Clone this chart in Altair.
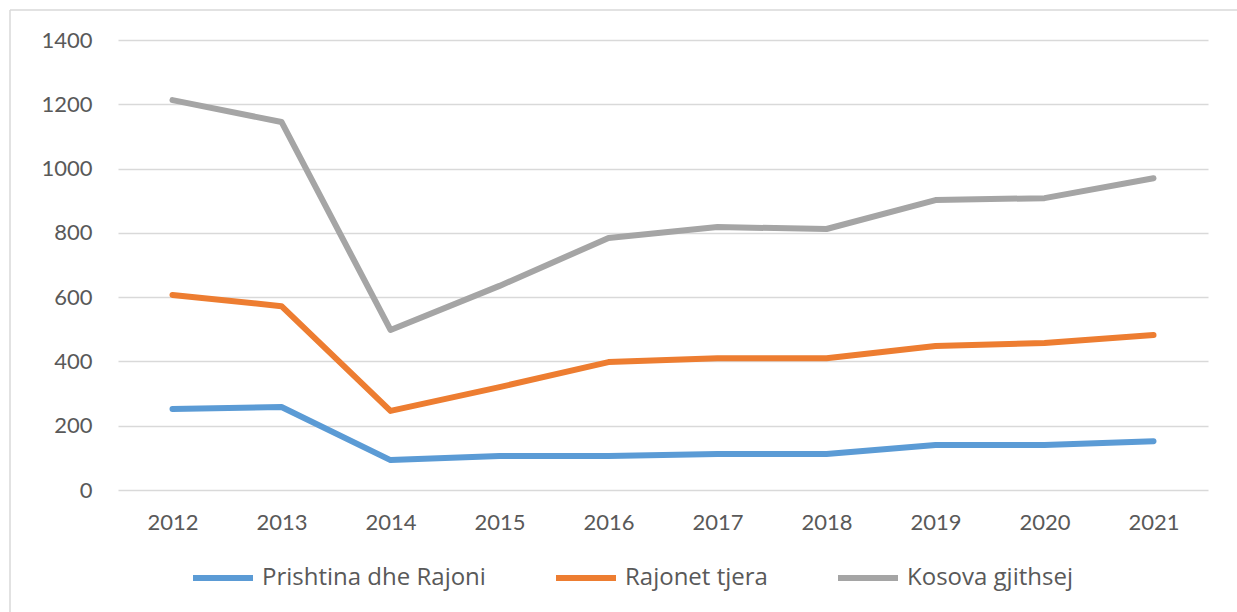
import altair as alt
import pandas as pd

years = ["2012", "2013", "2014", "2015", "2016", "2017", "2018", "2019", "2020", "2021"]
series_names = ["Prishtina dhe Rajoni", "Rajonet tjera", "Kosova gjithsej"]
prishtina = [252, 258, 93, 106, 106, 112, 112, 140, 140, 152]
rajonet = [607, 572, 246, 320, 398, 410, 410, 448, 457, 482]
kosova = [1213, 1145, 498, 635, 784, 818, 812, 902, 908, 970]
colors = ["#5b9bd5", "#ed7d31", "#a5a5a5"]

rows = []
for name, vals in zip(series_names, [prishtina, rajonet, kosova]):
    for y, v in zip(years, vals):
        rows.append({"Year": y, "Value": v, "Series": name})
df = pd.DataFrame(rows)

FONT = "Lato"

lines = alt.Chart(df).mark_line(strokeWidth=6, strokeCap="round", strokeJoin="round").encode(
    x=alt.X("Year:N", sort=years, title=None,
            scale=alt.Scale(type="point", padding=0.5),
            axis=alt.Axis(labelAngle=0, labelFontSize=22, labelColor="#595959", labelFont=FONT,
                          ticks=False, domain=False, labelPadding=22, grid=False)),
    y=alt.Y("Value:Q", title=None,
            scale=alt.Scale(domain=[0, 1400]),
            axis=alt.Axis(values=[0, 200, 400, 600, 800, 1000, 1200, 1400], format="d",
                          labelFontSize=22, labelColor="#595959", labelFont=FONT, ticks=False,
                          domain=False, labelPadding=26, gridColor="#d9d9d9", gridWidth=1.5)),
    color=alt.Color("Series:N", sort=series_names,
                    scale=alt.Scale(domain=series_names, range=colors),
                    legend=alt.Legend(title=None, orient="none", direction="horizontal",
                                      legendX=72, legendY=505, symbolType="stroke",
                                      symbolSize=3600, symbolStrokeWidth=6,
                                      labelFontSize=24, labelFont="Open Sans", labelColor="#595959",
                                      labelLimit=400, columnPadding=58, labelOffset=6)),
)

frame_left = alt.Chart(pd.DataFrame({"a": [0]})).mark_rule(color="#d9d9d9", strokeWidth=1.5).encode(
    x=alt.value(-108), y=alt.value(-30), y2=alt.value(600))
frame_top = alt.Chart(pd.DataFrame({"a": [0]})).mark_rule(color="#d9d9d9", strokeWidth=1.5).encode(
    x=alt.value(-108), x2=alt.value(1150), y=alt.value(-30))

chart = alt.layer(frame_left, frame_top, lines).properties(
    width=1090, height=450,
    autosize=alt.AutoSizeParams(type="none"),
    padding={"left": 118, "top": 40, "right": 29, "bottom": 122},
    background="white",
).configure_view(stroke=None)

chart.save("out.html", embed_options={"renderer": "svg", "actions": False})
